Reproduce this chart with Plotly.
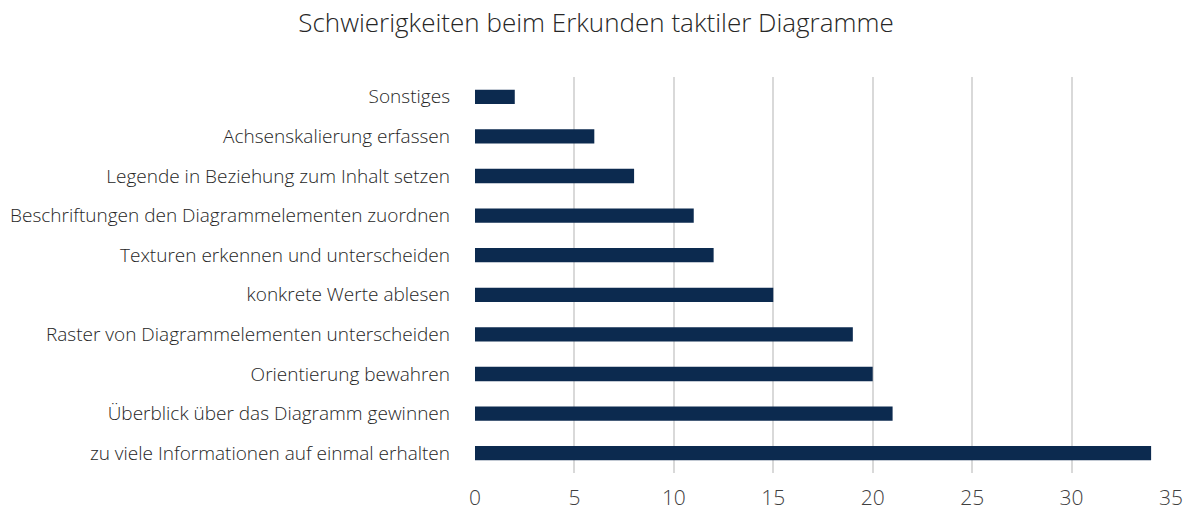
import plotly.graph_objects as go

categories = [
    "zu viele Informationen auf einmal erhalten",
    "Überblick über das Diagramm gewinnen",
    "Orientierung bewahren",
    "Raster von Diagrammelementen unterscheiden",
    "konkrete Werte ablesen",
    "Texturen erkennen und unterscheiden",
    "Beschriftungen den Diagrammelementen zuordnen",
    "Legende in Beziehung zum Inhalt setzen",
    "Achsenskalierung erfassen",
    "Sonstiges",
]
values = [34, 21, 20, 19, 15, 12, 11, 8, 6, 2]
x_ticks = [0, 5, 10, 15, 20, 25, 30, 35]

fig = go.Figure(go.Bar(
    y=categories, x=values, orientation="h",
    marker=dict(color="#0c2a4f", line=dict(width=0)),
))

fig.update_layout(
    width=1192, height=513,
    paper_bgcolor="white", plot_bgcolor="white",
    margin=dict(l=475, r=21, t=77, b=40),
    bargap=0.64,
    showlegend=False,
    title=dict(text="Schwierigkeiten beim Erkunden taktiler Diagramme",
               x=0.5, xanchor="center", y=0.955, yanchor="middle",
               font=dict(family="Open Sans", size=26, color="#262626", weight=300)),
    font=dict(family="Open Sans", color="#404040"),
)
fig.update_xaxes(range=[0, 35], tickvals=x_ticks, showgrid=True,
                 gridcolor="#d9d9d9", gridwidth=2, zeroline=False,
                 showline=False, ticks="", automargin=False,
                 tickfont=dict(size=21, color="#404040", weight=300),
                 ticklabelstandoff=10)
fig.update_yaxes(showgrid=False, zeroline=False, showline=False, ticks="",
                 automargin=False,
                 tickfont=dict(size=19, color="#262626", weight=300),
                 ticklabelstandoff=24)

fig.write_html("out.html", config={"displayModeBar": False},
               post_script="document.body.style.margin='0';document.body.style.overflow='hidden';")
